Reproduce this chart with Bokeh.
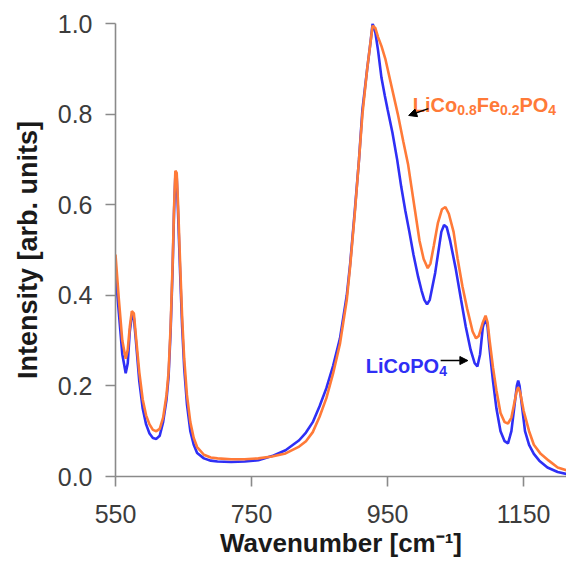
from bokeh.plotting import figure
from bokeh.models import Label, Arrow, NormalHead, PrintfTickFormatter
from bokeh.embed import file_html
from bokeh.resources import INLINE

# ---------------- data ----------------
wn_co = [550, 555, 560, 565, 568, 571, 574, 577, 580, 585, 590, 595, 600, 605, 610,
         615, 620, 625, 628, 631, 634, 636, 638, 640, 642, 645, 648, 651, 655, 660,
         665, 670, 680, 690, 700, 720, 740, 760, 780, 800, 820, 830, 840, 850, 860,
         870, 880, 890, 895, 902, 908, 913, 920, 925, 928, 932, 936, 941, 946, 950,
         957, 964, 970, 976, 982, 988, 995, 1000, 1004, 1008, 1012, 1016, 1020, 1025,
         1029, 1033, 1037, 1042, 1050, 1058, 1065, 1072, 1078, 1082, 1086, 1090, 1094,
         1097, 1100, 1105, 1110, 1116, 1122, 1127, 1132, 1136, 1140, 1142, 1144, 1148,
         1152, 1158, 1165, 1173, 1185, 1200, 1215, 1237]
int_co = [0.45, 0.36, 0.27, 0.228, 0.25, 0.32, 0.355, 0.35, 0.30, 0.21, 0.15, 0.115, 0.095, 0.085, 0.083,
          0.09, 0.12, 0.17, 0.22, 0.32, 0.46, 0.58, 0.665, 0.66, 0.58, 0.45, 0.33, 0.24, 0.16, 0.10,
          0.07, 0.052, 0.04, 0.035, 0.033, 0.032, 0.033, 0.036, 0.045, 0.058, 0.08, 0.097, 0.12, 0.155, 0.195,
          0.245, 0.305, 0.40, 0.47, 0.59, 0.70, 0.81, 0.90, 0.96, 1.0, 0.98, 0.94, 0.88, 0.84, 0.81,
          0.76, 0.70, 0.64, 0.587, 0.54, 0.49, 0.44, 0.41, 0.39, 0.38, 0.39, 0.42, 0.45, 0.50,
          0.54, 0.555, 0.55, 0.52, 0.46, 0.39, 0.33, 0.28, 0.25, 0.243, 0.27, 0.33, 0.35,
          0.33, 0.28, 0.21, 0.15, 0.10, 0.078, 0.073, 0.10, 0.15, 0.20, 0.212, 0.20, 0.15,
          0.10, 0.07, 0.05, 0.035, 0.02, 0.01, 0.005, 0.0]

wn_fe = [550, 555, 560, 565, 568, 571, 574, 577, 580, 585, 590, 595, 600, 605, 610,
         615, 620, 625, 628, 631, 634, 636, 638, 640, 642, 645, 648, 651, 655, 660,
         665, 670, 680, 690, 700, 720, 740, 760, 780, 800, 820, 830, 840, 850, 860,
         870, 880, 890, 895, 902, 908, 913, 920, 925, 928, 932, 936, 941, 947, 956,
         965, 973, 980, 985, 990, 997, 1003, 1009, 1013, 1018, 1024, 1030, 1035, 1040,
         1047, 1053, 1060, 1067, 1075, 1080, 1084, 1090, 1094, 1097, 1100, 1105, 1110,
         1116, 1122, 1127, 1132, 1136, 1140, 1142, 1145, 1150, 1158, 1165, 1175, 1187,
         1200, 1221, 1237]
int_fe = [0.49, 0.39, 0.30, 0.26, 0.28, 0.33, 0.365, 0.36, 0.31, 0.23, 0.17, 0.135, 0.115, 0.103, 0.10,
          0.105, 0.13, 0.18, 0.23, 0.33, 0.47, 0.59, 0.675, 0.67, 0.60, 0.47, 0.35, 0.26, 0.18, 0.12,
          0.085, 0.065, 0.048, 0.042, 0.04, 0.038, 0.038, 0.04, 0.044, 0.051, 0.066, 0.078, 0.098, 0.132, 0.173,
          0.228, 0.293, 0.39, 0.465, 0.585, 0.70, 0.80, 0.90, 0.96, 0.995, 0.99, 0.97, 0.95, 0.92, 0.86,
          0.80, 0.74, 0.69, 0.64, 0.59, 0.52, 0.48, 0.46, 0.47, 0.51, 0.56, 0.59, 0.595, 0.58,
          0.54, 0.48, 0.42, 0.37, 0.32, 0.305, 0.31, 0.34, 0.355, 0.34, 0.30, 0.24, 0.19,
          0.14, 0.12, 0.117, 0.13, 0.16, 0.19, 0.197, 0.185, 0.145, 0.10, 0.07, 0.05, 0.035,
          0.02, 0.01, 0.003]

x_ticks = [550, 750, 950, 1150]
y_ticks = [0.0, 0.2, 0.4, 0.6, 0.8, 1.0]

# ---------------- styling ----------------
BLUE = "#2f2ff5"
ORANGE = "#ff7a38"
AXIS = "#8a8a8a"
TXT = "#3c3c3c"
FONT = "Liberation Sans"

p = figure(width=566, height=564, x_range=(550, 1213), y_range=(0, 1.0),
           output_backend="svg", toolbar_location=None,
           min_border_left=115, min_border_right=0, min_border_top=23, min_border_bottom=88)
p.outline_line_color = None
p.grid.visible = False
p.background_fill_color = "white"

p.line(wn_co, int_co, line_color=BLUE, line_width=2.6)
p.line(wn_fe, int_fe, line_color=ORANGE, line_width=2.6)

for ax in (p.xaxis[0], p.yaxis[0]):
    ax.axis_line_color = AXIS
    ax.axis_line_width = 1.6
    ax.major_tick_line_color = AXIS
    ax.major_tick_line_width = 1.6
    ax.major_tick_out = 10
    ax.major_tick_in = 0
    ax.minor_tick_line_color = None
    ax.major_label_text_font = FONT
    ax.major_label_text_font_size = "25px"
    ax.major_label_text_color = TXT
    ax.axis_label_text_font = FONT
    ax.axis_label_text_font_style = "bold"
    ax.axis_label_text_color = "#1a1a1a"

p.xaxis.ticker = x_ticks
p.yaxis.ticker = y_ticks
p.yaxis.formatter = PrintfTickFormatter(format="%.1f")
p.xaxis.major_label_standoff = 18
p.yaxis.major_label_standoff = 13
p.xaxis.axis_label = "Wavenumber [cm⁻¹]"
p.yaxis.axis_label = "Intensity [arb. units]"
p.xaxis.axis_label_text_font_size = "26px"
p.yaxis.axis_label_text_font_size = "27px"
p.xaxis.axis_label_standoff = 2
p.yaxis.axis_label_standoff = 12

# ---------------- annotations ----------------
ADV = {"L": .611, "i": .278, "C": .722, "o": .611, "F": .611, "e": .556,
       "P": .667, "O": .778, "0": .556, ".": .278, "8": .556, "2": .556, "4": .556}


def rich_label(x, y, parts, color):
    off = 0.0
    for txt, sub in parts:
        size = 14 if sub else 20
        p.add_layout(Label(x=x, y=y, x_offset=off, y_offset=-5 if sub else 0, text=txt,
                           text_font=FONT, text_font_style="bold",
                           text_font_size=f"{size}px", text_color=color,
                           text_baseline="alphabetic", text_align="left"))
        off += sum(ADV[c] for c in txt) * size


rich_label(987, 0.819, [("LiCo", False), ("0.8", True), ("Fe", False),
                        ("0.2", True), ("PO", False), ("4", True)], ORANGE)
rich_label(918, 0.245, [("LiCoPO", False), ("4", True)], BLUE)

head = dict(size=8, fill_color="black", line_color="black")
p.add_layout(Arrow(end=NormalHead(**head), x_start=1010, y_start=0.812,
                   x_end=981, y_end=0.797, line_color="black", line_width=1.5))
p.add_layout(Arrow(end=NormalHead(**head), x_start=1028, y_start=0.256,
                   x_end=1068, y_end=0.256, line_color="black", line_width=1.5))

open("out.html", "w").write(file_html(p, INLINE))
